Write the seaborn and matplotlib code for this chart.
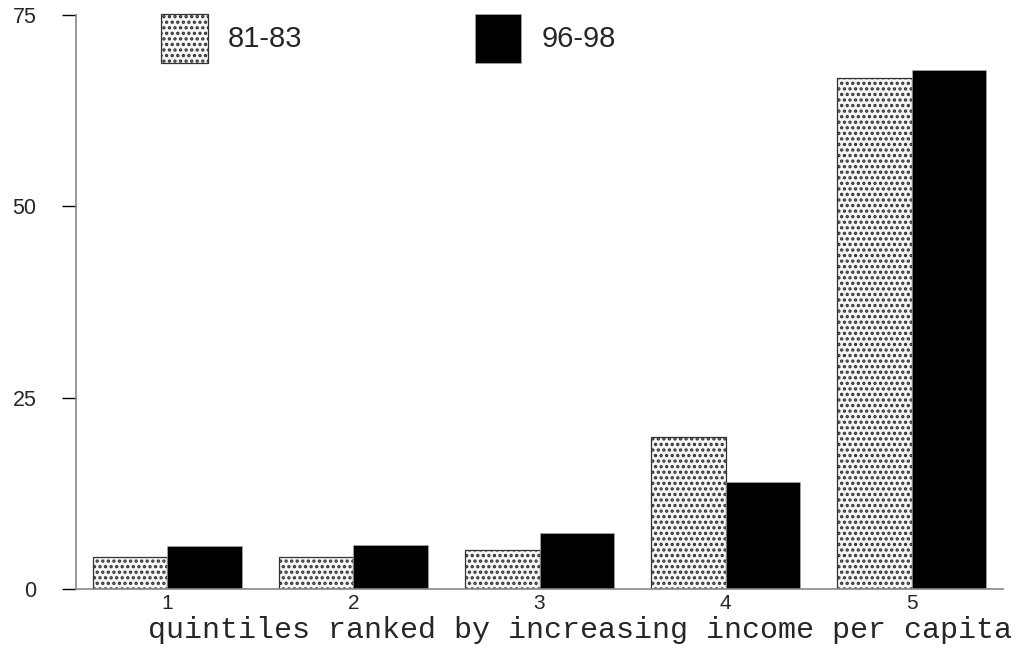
import numpy as np
import pandas as pd
import matplotlib
matplotlib.use("Agg")
import matplotlib.pyplot as plt
import seaborn as sns

# data
quintiles = ["1", "2", "3", "4", "5"]
share_81_83 = [4.2, 4.2, 5.1, 19.9, 66.8]
share_96_98 = [5.6, 5.8, 7.3, 14.0, 67.8]
periods = ["81-83", "96-98"]

df = pd.DataFrame({
    "quintile": quintiles * 2,
    "share": share_81_83 + share_96_98,
    "period": [periods[0]] * 5 + [periods[1]] * 5,
})

sns.set_style("white")
plt.rcParams["font.family"] = ["Liberation Sans", "DejaVu Sans"]
plt.rcParams["hatch.linewidth"] = 1.6

fig = plt.figure(figsize=(10.21, 6.5), dpi=100)
ax = fig.add_axes([76 / 1021, 61 / 650, (1003 - 76) / 1021, (589 - 15) / 650])

sns.barplot(data=df, x="quintile", y="share", hue="period",
            palette=["#f6f6f6", "black"], width=0.8, legend=False, ax=ax,
            saturation=1)

for bar in ax.containers[0]:
    bar.set_hatch("...")
    bar.set_edgecolor("#333333")
    bar.set_linewidth(0.9)
for bar in ax.containers[1]:
    bar.set_edgecolor("#aaaaaa")
    bar.set_linewidth(0.5)

ax.set_xlim(-0.49, 4.49)
ax.set_ylim(0, 75)
ax.set_yticks([0, 25, 50, 75])
ax.tick_params(axis="y", length=10, width=1.0, pad=18.5, labelsize=15.5,
               color="black", direction="out", left=True)
ax.tick_params(axis="x", length=0, pad=3.5, labelsize=15)
for side in ["top", "right"]:
    ax.spines[side].set_visible(False)
for side in ["left", "bottom"]:
    ax.spines[side].set_color("#888888")
    ax.spines[side].set_linewidth(1.2)
ax.set_xlabel("")
ax.set_ylabel("")

ax.legend(ax.containers, periods, ncol=2, frameon=False, fontsize=21,
          loc="upper left", bbox_to_anchor=(85 / 927, 1.002),
          handlelength=1.6, handleheight=2.2, handletextpad=0.7,
          columnspacing=5.9, borderaxespad=0, borderpad=0)

fig.text(148 / 1021, 12 / 650, "quintiles ranked by increasing income per capita",
         family=["Liberation Mono", "DejaVu Sans Mono"], fontsize=21.65, va="baseline")

fig.savefig("out.png", dpi=100)
